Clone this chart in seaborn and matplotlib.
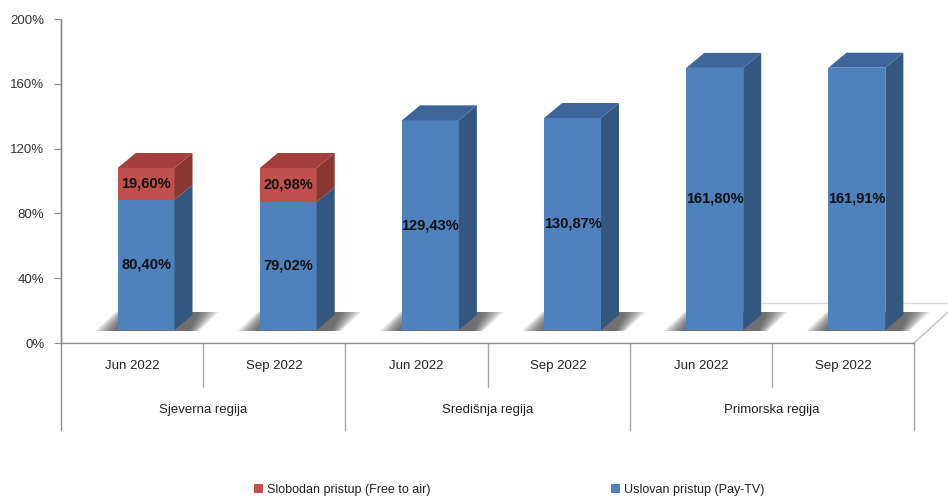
import numpy as np
import pandas as pd
import matplotlib
matplotlib.use('Agg')
import matplotlib.pyplot as plt
import matplotlib.transforms as mtransforms
from matplotlib.patches import Polygon, Patch
import seaborn as sns

# Chart values
regions = ['Sjeverna regija', 'Središnja regija', 'Primorska regija']
periods = ['Jun 2022', 'Sep 2022']
pay_tv = [80.40, 79.02, 129.43, 130.87, 161.80, 161.91]
free_to_air = [19.60, 20.98, 0.0, 0.0, 0.0, 0.0]
y_ticks = [0, 40, 80, 120, 160, 200]
series_names = ['Slobodan pristup (Free to air)', 'Uslovan pristup (Pay-TV)']

# Colours (front, side, top)
blue = ('#4F81BD', '#34577F', '#3D659A')
red = ('#C0504D', '#8A3633', '#A3403D')

keys = [f'{r}|{p}' for r in regions for p in periods]
df = pd.DataFrame({'key': keys, 'pay': pay_tv, 'free': free_to_air})
df['total'] = df['pay'] + df['free']

sns.set_style('white')
plt.rcParams['font.family'] = ['Liberation Sans', 'DejaVu Sans']

W, H = 948, 499
fig = plt.figure(figsize=(W / 100, H / 100), dpi=100)
left_px, right_px, bottom_px, top_px = 61, 914, 343, 19
ax = fig.add_axes([left_px / W, (H - bottom_px) / H,
                   (right_px - left_px) / W, (bottom_px - top_px) / H])

# front faces (stacked: totals in red, then pay-tv in blue)
sns.barplot(data=df, x='key', y='total', order=keys, color=red[0],
            width=0.40, saturation=1, ax=ax, zorder=3, linewidth=0)
n_red = len(ax.patches)
sns.barplot(data=df, x='key', y='pay', order=keys, color=blue[0],
            width=0.40, saturation=1, ax=ax, zorder=3, linewidth=0)
red_bars = ax.patches[:n_red]
blue_bars = ax.patches[n_red:]

ax.set_xlim(-0.5, len(keys) - 0.5)
ax.set_ylim(0, 200)

# pixel -> data conversion
px_x = (right_px - left_px) / len(keys)
px_y = (bottom_px - top_px) / 200.0
shift = ax.transData + mtransforms.ScaledTranslation(0.14, 0.13, fig.dpi_scale_trans)
dep_x, dep_y = 18 / px_x, 15 / px_y

for p in ax.patches:
    p.set_transform(shift)


def side_and_top(bar, y0, y1, cols, top):
    xr = bar.get_x() + bar.get_width()
    xl = bar.get_x()
    side = Polygon([(xr, y0), (xr + dep_x, y0 + dep_y), (xr + dep_x, y1 + dep_y), (xr, y1)],
                   closed=True, facecolor=cols[1], edgecolor='none', transform=shift, zorder=3)
    ax.add_patch(side)
    if top:
        tp = Polygon([(xl, y1), (xr, y1), (xr + dep_x, y1 + dep_y), (xl + dep_x, y1 + dep_y)],
                     closed=True, facecolor=cols[2], edgecolor='none', transform=shift, zorder=3)
        ax.add_patch(tp)


for i, (rb, bb) in enumerate(zip(red_bars, blue_bars)):
    pay, free, total = df.loc[i, 'pay'], df.loc[i, 'free'], df.loc[i, 'total']
    # soft shadow on the floor, darker next to the bar
    xl = bb.get_x()
    for k in range(8):
        a = k / 8.0
        bl = (-22 + 20 * a) / px_x
        br = (81 - 10 * a) / px_x
        tl = (-2 + 14 * a) / px_x
        tr = (101 - 22 * a) / px_x
        verts = [(xl + bl, -1 / px_y), (xl + br, -1 / px_y),
                 (xl + tr, 18 / px_y), (xl + tl, 18 / px_y)]
        ax.add_patch(Polygon(verts, closed=True, facecolor='#262626', edgecolor='none',
                             alpha=0.12, transform=shift, zorder=2, clip_on=False))
    side_and_top(bb, 0, pay, blue, top=free <= 0)
    if free > 0:
        side_and_top(rb, pay, total, red, top=True)
    cx = bb.get_x() + bb.get_width() / 2
    ax.text(cx, pay / 2, f'{pay:.2f}%'.replace('.', ','), ha='center', va='center',
            fontsize=10.5, fontweight='bold', color='#111111', transform=shift, zorder=5)
    if free > 0:
        ax.text(cx, pay + free / 2, f'{free:.2f}%'.replace('.', ','), ha='center', va='center',
                fontsize=10.5, fontweight='bold', color='#111111', transform=shift, zorder=5)

# axes styling
for s in ['top', 'right']:
    ax.spines[s].set_visible(False)
for s in ['left', 'bottom']:
    ax.spines[s].set_color('#8C8C8C')
    ax.spines[s].set_linewidth(1.0)
ax.set_yticks(y_ticks)
ax.set_yticklabels([f'{t}%' for t in y_ticks], fontsize=9.5, color='#333333')
ax.tick_params(axis='y', direction='out', length=5, color='#8C8C8C', pad=7, left=True)
ax.set_xticks([])
ax.set_xlabel('')
ax.set_ylabel('')

# category table below the axis
blend = mtransforms.blended_transform_factory(ax.transData, ax.transAxes)
lc = '#A6A6A6'
sub_y = -44 / (bottom_px - top_px)
reg_y = -87 / (bottom_px - top_px)
ax.plot([-0.5, -0.5], [reg_y, 1], color='#8C8C8C', lw=1.0, transform=blend, clip_on=False)
for j in range(1, len(keys) + 1):
    x = j - 0.5
    y_end = reg_y if j % 2 == 0 else sub_y
    ax.plot([x, x], [0, y_end], color=lc, lw=1.0, transform=blend, clip_on=False)
for i, k in enumerate(keys):
    ax.text(i, -23 / (bottom_px - top_px), k.split('|')[1], ha='center', va='center',
            fontsize=9.5, color='#222222', transform=blend)
for r, name in enumerate(regions):
    ax.text(2 * r + 0.5, -67 / (bottom_px - top_px), name, ha='center', va='center',
            fontsize=9.5, color='#222222', transform=blend)

# floor edges (behind the bars)
floor_shift = ax.transData + mtransforms.ScaledTranslation(0.44, 0.40, fig.dpi_scale_trans)
x_end = len(keys) - 0.5
fx0, fy0 = ax.transData.transform((x_end, 0))
fx1, fy1 = floor_shift.transform((x_end, 0))
inv = ax.transData.inverted()
d0 = inv.transform((fx0, fy0))
d1 = inv.transform((fx1, fy1))
ax.plot([d0[0], d1[0] + 0.2], [d0[1], d1[1] + (d1[1] - d0[1]) * 0.2 / (d1[0] - d0[0])],
        color='#BFBFBF', lw=1.0, clip_on=False, zorder=1)
ax.plot([4.42, d1[0] + 0.2], [d1[1], d1[1]], color='#D9D9D9', lw=1.0, clip_on=False, zorder=1)

# legend
handles = [Patch(facecolor=red[0], edgecolor='none'), Patch(facecolor=blue[0], edgecolor='none')]
fig.legend(handles, series_names, loc='center', bbox_to_anchor=(0.537, 0.018), ncol=2,
           frameon=False, fontsize=9, handlelength=0.7, handleheight=0.7,
           handletextpad=0.3, columnspacing=14.5, labelcolor='#222222')

fig.savefig('out.png', dpi=100)
